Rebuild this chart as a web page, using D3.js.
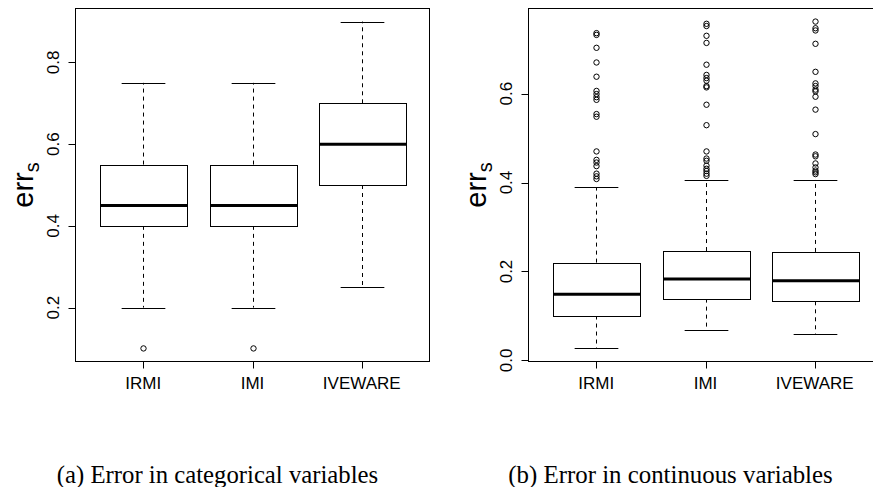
<!DOCTYPE html>
<html>
<head>
<meta charset="utf-8">
<script src="https://cdn.jsdelivr.net/npm/d3@7"></script>
<style>
  html, body { margin: 0; padding: 0; background: #fff; }
  svg { display: block; }
</style>
</head>
<body>
<svg id="chart" width="873" height="487"></svg>
<script>
// Imputation methods compared in both panels
const methods = ["IRMI", "IMI", "IVEWARE"];

// (a) error in categorical variables: five-number summaries per method
const catLow  = [0.20, 0.20, 0.25];
const catQ1   = [0.40, 0.40, 0.50];
const catMed  = [0.45, 0.45, 0.60];
const catQ3   = [0.55, 0.55, 0.70];
const catHigh = [0.75, 0.75, 0.90];
const catOutliers = [[0.10], [0.10], []];
const catTicks = [0.2, 0.4, 0.6, 0.8];

// (b) error in continuous variables
const contLow  = [0.027, 0.069, 0.060];
const contQ1   = [0.101, 0.139, 0.133];
const contMed  = [0.149, 0.183, 0.179];
const contQ3   = [0.220, 0.246, 0.244];
const contHigh = [0.390, 0.405, 0.406];
const contOutliers = [
  [0.736, 0.732, 0.703, 0.670, 0.638, 0.606, 0.599, 0.592, 0.586, 0.554, 0.548,
   0.470, 0.451, 0.445, 0.437, 0.420, 0.414, 0.408],
  [0.757, 0.752, 0.730, 0.714, 0.665, 0.642, 0.635, 0.629, 0.617, 0.614, 0.575,
   0.529, 0.470, 0.454, 0.449, 0.438, 0.431, 0.426, 0.420, 0.415],
  [0.762, 0.747, 0.742, 0.712, 0.649, 0.623, 0.617, 0.609, 0.605, 0.593, 0.564,
   0.509, 0.463, 0.459, 0.443, 0.434, 0.427, 0.423, 0.419]
];
const contTicks = [0.0, 0.2, 0.4, 0.6];

const captions = ["(a) Error in categorical variables", "(b) Error in continuous variables"];

const svg = d3.select("#chart");
const sansFont = "'Liberation Sans', Arial, Helvetica, sans-serif";
const serifFont = "'Liberation Serif', 'Times New Roman', serif";

const panels = [
  { x0: 75.5, x1: 429.5, low: catLow, q1: catQ1, med: catMed, q3: catQ3, high: catHigh,
    outliers: catOutliers, ticks: catTicks, caption: captions[0], capX: 217.5, capW: 321.5 },
  { x0: 528.5, x1: 882.5, low: contLow, q1: contQ1, med: contMed, q3: contQ3, high: contHigh,
    outliers: contOutliers, ticks: contTicks, caption: captions[1], capX: 670.5, capW: 324.5 }
];

const yTop = 8.5, yBottom = 361.5;
const tickFont = 17;

panels.forEach(p => {
  const g = svg.append("g");

  // value range padded by 4% on each side, like base R graphics
  const all = [].concat(p.low, p.high, ...p.outliers);
  const [mn, mx] = d3.extent(all);
  const pad = (mx - mn) * 0.04;
  const y = d3.scaleLinear().domain([mn - pad, mx + pad]).range([yBottom, yTop]);
  const x = d3.scaleLinear().domain([0.38, 3.62]).range([p.x0, p.x1]);
  const unit = x(1) - x(0);

  methods.forEach((m, i) => {
    const cx = Math.round(x(i + 1)) + 0.5;
    const boxW = Math.round(unit * 0.8);
    const capW = unit * 0.4;
    const bx = Math.round(cx - boxW / 2) + 0.5;

    // dashed whiskers
    g.append("line").attr("x1", cx).attr("x2", cx).attr("y1", y(p.q3[i])).attr("y2", y(p.high[i]))
      .attr("stroke", "#000").attr("stroke-dasharray", "4,4");
    g.append("line").attr("x1", cx).attr("x2", cx).attr("y1", y(p.q1[i])).attr("y2", y(p.low[i]))
      .attr("stroke", "#000").attr("stroke-dasharray", "4,4");
    // whisker caps
    [p.high[i], p.low[i]].forEach(v => {
      g.append("line").attr("x1", cx - capW / 2).attr("x2", cx + capW / 2)
        .attr("y1", Math.round(y(v)) + 0.5).attr("y2", Math.round(y(v)) + 0.5)
        .attr("stroke", "#000");
    });
    // box
    const top = Math.round(y(p.q3[i])) + 0.5, bot = Math.round(y(p.q1[i])) + 0.5;
    g.append("rect").attr("x", bx).attr("y", top)
      .attr("width", boxW).attr("height", bot - top)
      .attr("fill", "#fff").attr("stroke", "#000");
    // median
    g.append("line").attr("x1", bx).attr("x2", bx + boxW)
      .attr("y1", y(p.med[i])).attr("y2", y(p.med[i]))
      .attr("stroke", "#000").attr("stroke-width", 3);
    // outliers
    g.selectAll(null).data(p.outliers[i]).enter().append("circle")
      .attr("cx", cx).attr("cy", d => y(d)).attr("r", 2.7)
      .attr("fill", "none").attr("stroke", "#000").attr("stroke-width", 1);
  });

  // plot frame
  g.append("rect").attr("x", p.x0).attr("y", yTop)
    .attr("width", p.x1 - p.x0).attr("height", yBottom - yTop)
    .attr("fill", "none").attr("stroke", "#000");

  // y axis ticks and rotated labels
  p.ticks.forEach(t => {
    const ty = Math.round(y(t)) + 0.5;
    g.append("line").attr("x1", p.x0 - 7).attr("x2", p.x0).attr("y1", ty).attr("y2", ty).attr("stroke", "#000");
    g.append("text").attr("transform", `translate(${p.x0 - 16.5},${y(t)}) rotate(-90)`)
      .attr("text-anchor", "middle").attr("font-family", sansFont).attr("font-size", tickFont)
      .attr("fill", "#000").text(d3.format(".1f")(t));
  });

  // x axis ticks and method labels
  methods.forEach((m, i) => {
    const cx = Math.round(x(i + 1)) + 0.5;
    g.append("line").attr("x1", cx).attr("x2", cx).attr("y1", yBottom).attr("y2", yBottom + 7).attr("stroke", "#000");
    g.append("text").attr("x", x(i + 1)).attr("y", 388.5).attr("text-anchor", "middle")
      .attr("font-family", sansFont).attr("font-size", tickFont).attr("fill", "#000").text(m);
  });

  // y axis title: err with subscript s
  const title = g.append("text")
    .attr("transform", `translate(${p.x0 - 43},${(yTop + yBottom) / 2}) rotate(-90)`)
    .attr("text-anchor", "middle").attr("font-family", sansFont).attr("font-size", 29).attr("fill", "#000");
  title.append("tspan").text("err");
  title.append("tspan").attr("font-size", 20).attr("dy", 6).text("s");

  // caption below the panel
  const cap = g.append("text").attr("x", p.capX).attr("y", 482.5).attr("text-anchor", "middle")
    .attr("font-family", serifFont).attr("font-size", 19).attr("fill", "#000").text(p.caption);
  const w = cap.node().getComputedTextLength();
  if (w > 0) cap.attr("font-size", 19 * p.capW / w);
});
</script>
</body>
</html>
